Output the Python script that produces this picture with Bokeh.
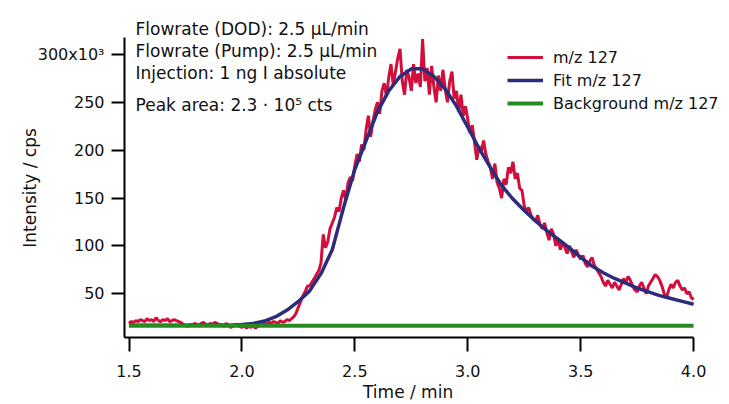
import numpy as np
from bokeh.plotting import figure
from bokeh.models import Label, FixedTicker, CustomJSTickFormatter, Legend, LegendItem
from bokeh.embed import file_html
from bokeh.resources import INLINE

# ---------------- data (intensity in 10^3 cps) ----------------
t_start = 1.50
t_step = 0.01
signal_k = [
    19, 21, 20, 22, 21, 23, 22, 21, 24, 22,
    23, 21, 25, 22, 21, 23, 22, 24, 21, 22,
    23, 22, 21, 20, 18, 17, 16, 18, 17, 19,
    18, 17, 19, 20, 18, 17, 19, 18, 20, 19,
    17, 18, 16, 19, 17, 15, 16, 18, 17, 16,
    15, 17, 14, 16, 15, 17, 14, 16, 18, 17,
    19, 18, 20, 19, 21, 20, 19, 22, 20, 21,
    23, 22, 24, 26, 30, 36, 42, 48, 52, 58,
    58, 62, 66, 70, 74, 82, 112, 98, 104, 118,
    124, 130, 140, 136, 150, 158, 148, 166, 172, 168,
    184, 196, 188, 206, 200, 222, 236, 214, 230, 242,
    250, 238, 262, 270, 256, 276, 290, 268, 282, 296,
    306, 272, 258, 284, 276, 262, 290, 270, 280, 266,
    316, 272, 286, 258, 288, 266, 250, 278, 262, 284,
    264, 250, 272, 282, 254, 262, 240, 258, 236, 246,
    232, 218, 226, 208, 190, 204, 198, 210, 196, 188,
    182, 170, 186, 166, 160, 150, 170, 164, 182, 176,
    188, 170, 176, 160, 158, 142, 136, 140, 132, 128,
    126, 132, 122, 118, 124, 114, 106, 118, 112, 100,
    108, 96, 104, 98, 92, 100, 94, 88, 96, 90,
    86, 90, 82, 78, 84, 88, 80, 76, 72, 68,
    62, 58, 64, 60, 56, 62, 58, 54, 60, 66,
    62, 68, 64, 58, 54, 52, 58, 62, 56, 50,
    58, 62, 66, 70, 68, 64, 58, 50, 46, 54,
    60, 56, 62, 64, 58, 54, 56, 50, 52, 46,
    44,
]
signal_t = [round(t_start + i * t_step, 2) for i in range(len(signal_k))]

fit_t = [1.50, 1.55, 1.60, 1.65, 1.70, 1.75, 1.80, 1.85, 1.90, 1.95,
         2.00, 2.05, 2.10, 2.15, 2.20, 2.25, 2.30, 2.35, 2.40, 2.45,
         2.50, 2.55, 2.60, 2.65, 2.70, 2.75, 2.80, 2.85, 2.90, 2.95,
         3.00, 3.05, 3.10, 3.15, 3.20, 3.25, 3.30, 3.35, 3.40, 3.45,
         3.50, 3.55, 3.60, 3.65, 3.70, 3.75, 3.80, 3.85, 3.90, 3.95, 4.00]
fit_k = [17.0, 17.0, 17.0, 17.0, 17.0, 17.0, 17.0, 17.0, 17.0, 17.2,
         17.8, 19.0, 21.5, 26, 33, 42, 53, 71, 96, 140,
         180, 210, 240, 262, 277, 285, 285, 277, 264, 246,
         224, 202, 182, 163, 149, 137, 126, 116, 107, 98,
         88, 79, 72, 66, 61, 56, 52, 48, 45, 42, 39]

bg_t = [1.50, 4.00]
bg_k = [16.7, 16.7]

x_ticks = [1.5, 2.0, 2.5, 3.0, 3.5, 4.0]
y_ticks = [50, 100, 150, 200, 250, 300]

info_lines = ["Flowrate (DOD): 2.5 µL/min",
              "Flowrate (Pump): 2.5 µL/min",
              "Injection: 1 ng I absolute",
              "Peak area: 2.3 · 10\u2075 cts"]
legend_names = ["m/z 127", "Fit m/z 127", "Background m/z 127"]
x_title = "Time / min"
y_title = "Intensity / cps"

# ---------------- styling ----------------
FONT = "DejaVu Sans"
RED = "#d0103a"
BLUE = "#2b2c7c"
GREEN = "#2a8a22"
TXT = "#111111"
NBSP = "\u00a0"

# axes span 1.48-4.0 and 4.3-317.8; the frame extends further right/up so
# that the text block and legend are not clipped
X_AXIS = (1.48, 4.0)
Y_AXIS = (4.3, 317.8)

p = figure(width=729, height=404, output_backend="svg", toolbar_location=None,
           x_range=(1.48, 4.159), y_range=(4.3, 356.4),
           min_border_left=124, min_border_right=0, min_border_top=0, min_border_bottom=67)
p.title.visible = False
p.outline_line_color = None
p.xgrid.visible = False
p.ygrid.visible = False
p.background_fill_color = "white"
p.border_fill_color = "white"

r_sig = p.line(signal_t, signal_k, line_color=RED, line_width=3)
r_fit = p.line(fit_t, fit_k, line_color=BLUE, line_width=3.5)
r_bg = p.line(bg_t, bg_k, line_color=GREEN, line_width=4)

for ax in (p.xaxis[0], p.yaxis[0]):
    ax.axis_line_width = 2
    ax.axis_line_color = "black"
    ax.major_tick_line_width = 2
    ax.major_tick_line_color = "black"
    ax.major_tick_in = 0
    ax.minor_tick_line_color = None
    ax.major_label_text_font = FONT
    ax.major_label_text_font_size = "16px"
    ax.major_label_text_color = TXT
    ax.axis_label_text_font = FONT
    ax.axis_label_text_font_size = "17px"
    ax.axis_label_text_font_style = "normal"
    ax.axis_label_text_color = TXT

# axis titles are centred on the (wider) frame; trailing no-break spaces
# re-centre them on the visible axis lines
p.xaxis[0].bounds = X_AXIS
p.xaxis[0].ticker = FixedTicker(ticks=x_ticks)
p.xaxis[0].major_tick_out = 14
p.xaxis[0].major_label_standoff = 13
p.xaxis[0].axis_label = x_title + NBSP * 7
p.xaxis[0].axis_label_standoff = 2
p.xaxis[0].formatter = CustomJSTickFormatter(code="return tick.toFixed(1);")

p.yaxis[0].bounds = Y_AXIS
p.yaxis[0].ticker = FixedTicker(ticks=y_ticks)
p.yaxis[0].major_tick_out = 13
p.yaxis[0].major_label_standoff = 7
p.yaxis[0].axis_label = y_title + NBSP * 7
p.yaxis[0].axis_label_standoff = -5
p.yaxis[0].formatter = CustomJSTickFormatter(
    code="return tick == 300 ? '300x10\u00b3' : tick.toFixed(0);")

# text block (baselines given in data units)
info_y = [326.6, 304.0, 280.2, 247.5]
for txt, yy in zip(info_lines, info_y):
    p.add_layout(Label(x=1.529, y=yy, text=txt, text_font=FONT, text_font_size="17px",
                       text_color=TXT, text_baseline="alphabetic"))

legend = Legend(items=[LegendItem(label=n, renderers=[r])
                       for n, r in zip(legend_names, (r_sig, r_fit, r_bg))],
                location=(383, 224))
legend.border_line_color = None
legend.background_fill_alpha = 0
legend.padding = 0
legend.margin = 0
legend.spacing = 3
legend.glyph_width = 36
legend.glyph_height = 20
legend.label_height = 20
legend.label_standoff = 10
legend.label_text_font = FONT
legend.label_text_font_size = "16px"
legend.label_text_color = TXT
p.add_layout(legend, "center")

open("out.html", "w").write(file_html(p, INLINE))
